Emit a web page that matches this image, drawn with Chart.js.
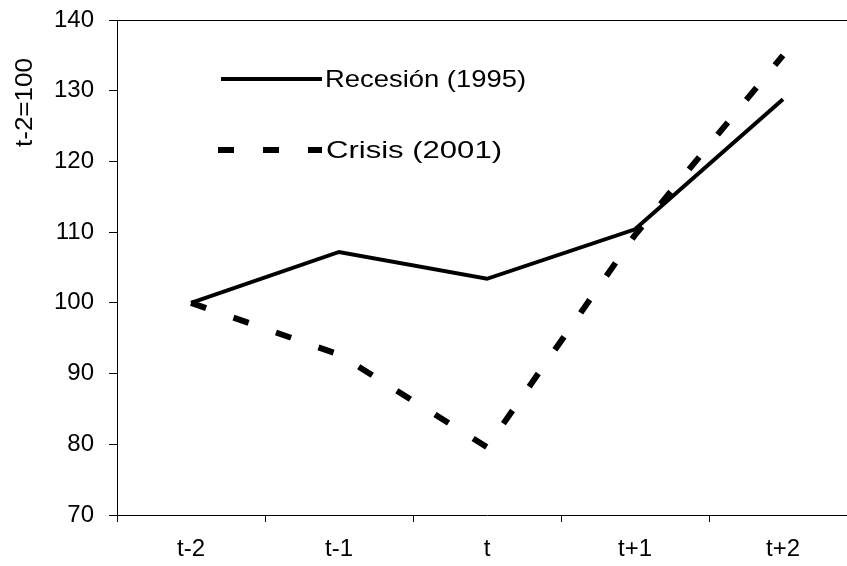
<!DOCTYPE html>
<html>
<head>
<meta charset="utf-8">
<script src="https://cdn.jsdelivr.net/npm/chart.js@4/dist/chart.umd.min.js"></script>
<style>
html,body{margin:0;padding:0;background:#fff;overflow:hidden;}
#wrap{position:relative;width:860px;height:566px;}
</style>
</head>
<body>
<div id="wrap"><canvas id="c"></canvas></div>
<script>
const categories = ['t-2', 't-1', 't', 't+1', 't+2'];
const recesion1995 = [100, 107.2, 103.4, 110.4, 128.8];
const crisis2001 = [100, 92.7, 79.6, 109.6, 135.0];
const seriesNames = ['Recesión (1995)', 'Crisis (2001)'];
const yTitle = 't-2=100';
const yMin = 70, yMax = 140, yStep = 10;

const FONT = '"Liberation Sans", Arial, sans-serif';
const FS = 24;

function stretchedText(ctx, text, x, y, targetWidth) {
  const w = ctx.measureText(text).width;
  const sx = Math.max(1, targetWidth / w);
  ctx.save();
  ctx.translate(x, y);
  ctx.scale(sx, 1);
  ctx.fillText(text, 0, 0);
  ctx.restore();
}

const overlay = {
  id: 'overlay',
  afterDraw(chart) {
    const ctx = chart.ctx;
    const a = chart.chartArea;
    ctx.save();
    ctx.strokeStyle = '#000';
    ctx.lineWidth = 1;
    ctx.beginPath();
    ctx.moveTo(a.left - 8, Math.round(a.top) + 0.5);
    ctx.lineTo(a.right, Math.round(a.top) + 0.5);
    ctx.stroke();
    // y title
    ctx.fillStyle = '#000';
    ctx.font = FS + 'px ' + FONT;
    ctx.textAlign = 'left';
    ctx.textBaseline = 'middle';
    ctx.translate(25, 147);
    ctx.rotate(-Math.PI / 2);
    stretchedText(ctx, yTitle, 0, 0, 89);
    ctx.restore();
    // legend
    ctx.save();
    const items = [{y: 79, ds: chart.data.datasets[0], w: 201, x0: 325},
                   {y: 150, ds: chart.data.datasets[1], w: 176, x0: 326}];
    items.forEach((it, i) => {
      ctx.strokeStyle = it.ds.borderColor;
      ctx.lineWidth = it.ds.borderWidth;
      ctx.lineCap = 'butt';
      ctx.setLineDash(it.ds.borderDash || []);
      ctx.beginPath();
      ctx.moveTo(it.ds.borderDash ? 218 : 221, it.y);
      ctx.lineTo(322, it.y);
      ctx.stroke();
      ctx.setLineDash([]);
      ctx.fillStyle = '#000';
      ctx.font = FS + 'px ' + FONT;
      ctx.textAlign = 'left';
      ctx.textBaseline = 'middle';
      stretchedText(ctx, seriesNames[i], it.x0, it.y + 1, it.w);
    });
    ctx.restore();
  }
};

new Chart(document.getElementById('c'), {
  type: 'line',
  data: {
    labels: categories,
    datasets: [
      {label: seriesNames[0], data: recesion1995, borderColor: '#000', borderWidth: 4,
       pointRadius: 0, tension: 0, fill: false, borderJoinStyle: 'miter'},
      {label: seriesNames[1], data: crisis2001, borderColor: '#000', borderWidth: 6,
       borderDash: [16, 29], borderCapStyle: 'butt', pointRadius: 0, tension: 0, fill: false}
    ]
  },
  options: {
    responsive: true,
    maintainAspectRatio: false,
    animation: false,
    events: [],
    layout: {padding: {left: 54, right: 3, top: 20, bottom: 0}},
    plugins: {legend: {display: false}, tooltip: {enabled: false}},
    scales: {
      x: {
        offset: true,
        afterFit(s) { s.height = 51; },
        grid: {offset: true, drawOnChartArea: false, drawTicks: true, tickLength: 7, color: '#000', lineWidth: 1},
        border: {display: true, color: '#000', width: 1},
        ticks: {color: '#000', font: {family: FONT, size: FS}, padding: 13, maxRotation: 0}
      },
      y: {
        min: yMin, max: yMax,
        afterFit(s) { s.width = 63; s.paddingTop = 0; s.paddingBottom = 0; },
        grid: {drawOnChartArea: false, drawTicks: true, tickLength: 8, color: '#000', lineWidth: 1},
        border: {display: true, color: '#000', width: 1},
        ticks: {stepSize: yStep, color: '#000', font: {family: FONT, size: FS}, padding: 15}
      }
    }
  },
  plugins: [overlay]
});
</script>
</body>
</html>
